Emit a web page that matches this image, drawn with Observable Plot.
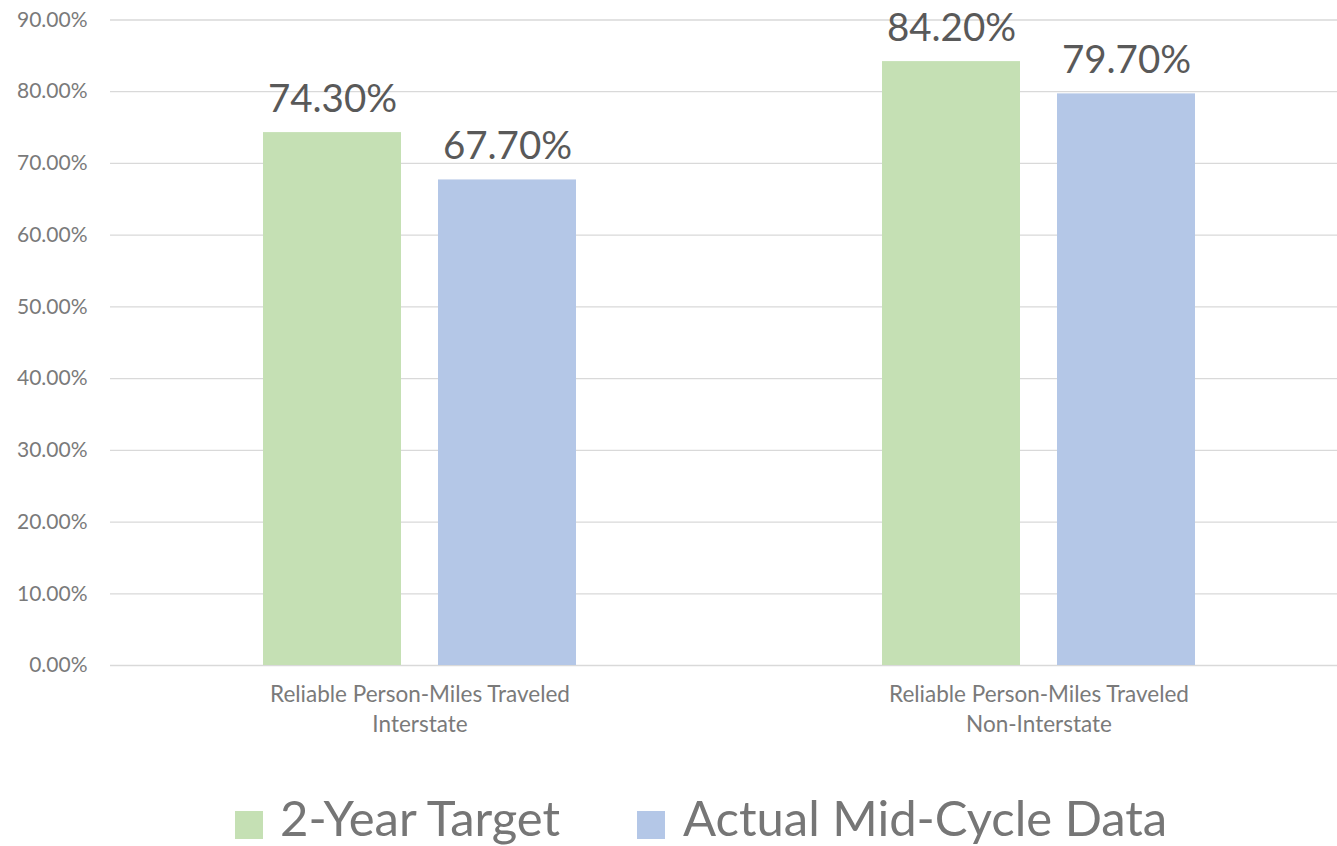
<!DOCTYPE html>
<html>
<head>
<meta charset="utf-8">
<script src="https://cdn.jsdelivr.net/npm/d3@7"></script>
<script src="https://cdn.jsdelivr.net/npm/@observablehq/plot@0.6"></script>
<style>
  html, body { margin: 0; padding: 0; background: #fff; overflow: hidden; }
  #chart svg { display: block; }
  #legend { position: relative; width: 1337px; height: 86px; font-family: Lato, "Open Sans", sans-serif; color: #767676; }
  .sw { position: absolute; width: 28px; height: 28px; top: 51px; }
  .lt { position: absolute; top: 26px; font-size: 49px; line-height: 1.3; white-space: nowrap; }
</style>
</head>
<body>
<div id="chart"></div>
<div id="legend"></div>
<script>
const groups = ["Reliable Person-Miles Traveled\nInterstate", "Reliable Person-Miles Traveled\nNon-Interstate"];
const series = ["2-Year Target", "Actual Mid-Cycle Data"];
const target = [0.743, 0.842];
const actual = [0.677, 0.797];
const yTicks = [0, 0.1, 0.2, 0.3, 0.4, 0.5, 0.6, 0.7, 0.8, 0.9];
const colors = ["#C5E0B4", "#B4C7E7"];

const data = [];
groups.forEach((g, i) => {
  data.push({group: g, series: series[0], value: target[i]});
  data.push({group: g, series: series[1], value: actual[i]});
});

const pct = d => (d * 100).toFixed(2) + "%";

const chart = Plot.plot({
  width: 1337,
  height: 760,
  marginLeft: 110,
  marginRight: -11,
  marginTop: 19.5,
  marginBottom: 95,
  style: {fontFamily: "Lato, 'Open Sans', sans-serif", background: "#fff"},
  fx: {domain: groups, paddingInner: 0, paddingOuter: 0, label: null},
  x: {domain: series, paddingInner: 0.21, paddingOuter: 0.864, axis: null},
  y: {domain: [0, 0.9], label: null},
  color: {domain: series, range: colors},
  marks: [
    Plot.gridY(yTicks, {stroke: "#d9d9d9", strokeOpacity: 1, strokeWidth: 1.3}),
    Plot.axisY(yTicks, {tickSize: 0, tickPadding: 23, tickFormat: pct, fontSize: 21, fill: "#7a7a7a", label: null}),
    Plot.axisFx({anchor: "bottom", tickSize: 0, tickPadding: 16, fontSize: 22.5, lineHeight: 1.3, fill: "#7a7a7a", label: null}),
    Plot.barY(data, {fx: "group", x: "series", y: "value", fill: "series"}),
    Plot.text(data, {fx: "group", x: "series", y: "value", text: d => pct(d.value), lineAnchor: "bottom", dy: -21, fontSize: 38.5, fill: "#595959"})
  ]
});
document.getElementById("chart").appendChild(chart);

const legend = document.getElementById("legend");
const legendItems = [{sw: 235, tx: 280}, {sw: 637, tx: 683}];
series.forEach((s, i) => {
  const sw = document.createElement("div");
  sw.className = "sw";
  sw.style.left = legendItems[i].sw + "px";
  sw.style.background = colors[i];
  legend.appendChild(sw);
  const t = document.createElement("div");
  t.className = "lt";
  t.style.left = legendItems[i].tx + "px";
  t.textContent = s;
  legend.appendChild(t);
});
</script>
</body>
</html>
